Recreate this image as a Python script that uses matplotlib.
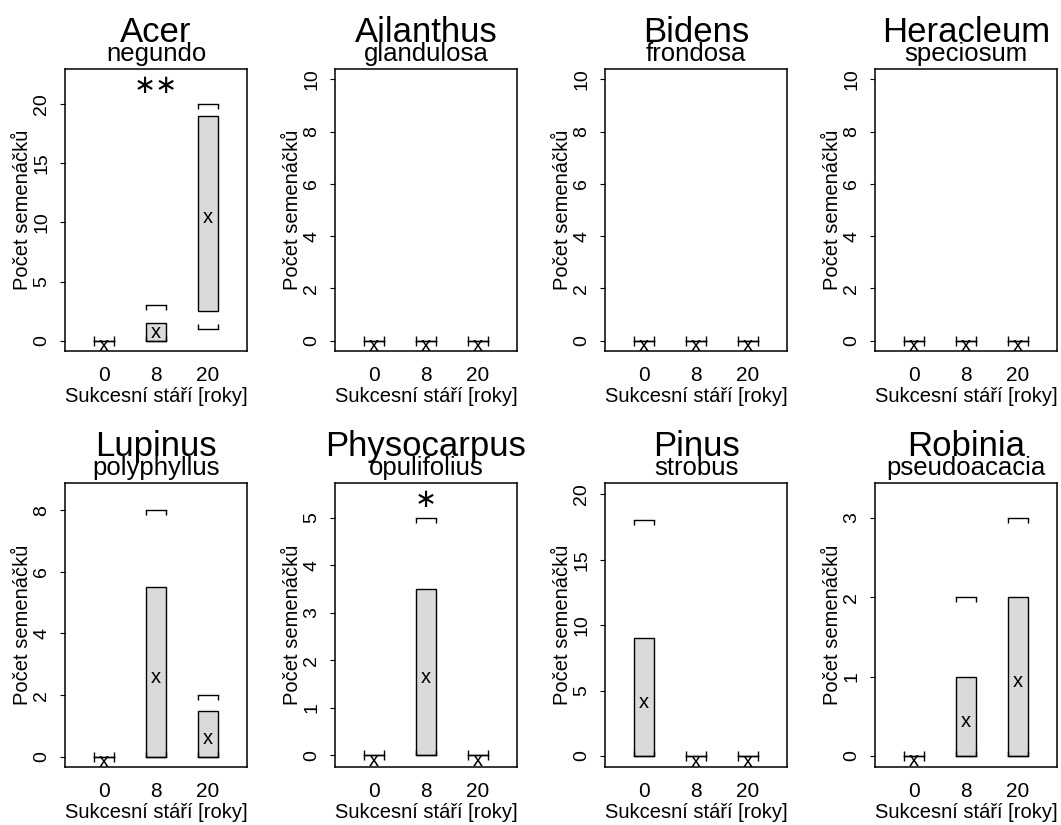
import matplotlib
matplotlib.use("Agg")
import matplotlib.pyplot as plt
from matplotlib.patches import Rectangle
from matplotlib.transforms import offset_copy

plt.rcParams['font.family'] = ['Liberation Sans', 'DejaVu Sans']

genus = ["Acer", "Ailanthus", "Bidens", "Heracleum",
         "Lupinus", "Physocarpus", "Pinus", "Robinia"]
species = ["negundo", "glandulosa", "frondosa", "speciosum",
           "polyphyllus", "opulifolius", "strobus", "pseudoacacia"]
ages = ["0", "8", "20"]

# one row per species, one value per age class (0, 8, 20 years)
q1 = [[0, 0, 2.5], [0, 0, 0], [0, 0, 0], [0, 0, 0],
      [0, 0, 0], [0, 0, 0], [0, 0, 0], [0, 0, 0]]
q3 = [[0, 1.5, 19], [0, 0, 0], [0, 0, 0], [0, 0, 0],
      [0, 5.5, 1.5], [0, 3.5, 0], [9, 0, 0], [0, 1, 2]]
vmin = [[0, 0, 1], [0, 0, 0], [0, 0, 0], [0, 0, 0],
        [0, 0, 0], [0, 0, 0], [0, 0, 0], [0, 0, 0]]
vmax = [[0, 3, 20], [0, 0, 0], [0, 0, 0], [0, 0, 0],
        [0, 8, 2], [0, 5, 0], [18, 0, 0], [0, 2, 3]]
means = [[0, 1.1, 10.8], [0, 0, 0], [0, 0, 0], [0, 0, 0],
         [0, 2.75, 0.76], [0, 1.75, 0], [4.5, 0, 0], [0, 0.5, 1.0]]
signif = ["**", "", "", "", "", "*", "", ""]

ylims = [(-0.85, 22.95), (-0.4, 10.4), (-0.4, 10.4), (-0.4, 10.4),
         (-0.33, 8.88), (-0.25, 5.73), (-0.84, 20.86), (-0.14, 3.44)]
ysteps = [5, 2, 2, 2, 2, 1, 5, 1]

W, H = 1061, 825
fig = plt.figure(figsize=(W / 100, H / 100), dpi=100)

box_w = 0.38
for i in range(8):
    row, col = divmod(i, 4)
    left = (65 + col * 270) / W
    if row == 0:
        ax = fig.add_axes([left, 1 - 351 / H, 182 / W, 282 / H])
    else:
        ax = fig.add_axes([left, 1 - 767 / H, 182 / W, 284 / H])

    mean_tr = offset_copy(ax.transData, fig, y=-5, units='dots')
    for j in range(3):
        x = j + 1
        if q3[i][j] > q1[i][j]:
            ax.add_patch(Rectangle((x - box_w / 2, q1[i][j]), box_w, q3[i][j] - q1[i][j],
                                   facecolor='#dadada', edgecolor='black', lw=1.0, zorder=2))
        xs = [x - box_w / 2, x + box_w / 2]
        ax.plot(xs, [vmax[i][j]] * 2, color='black', lw=1.0, zorder=3)
        ax.plot(xs, [vmax[i][j]] * 2, ls='none', marker=3, ms=3.5, mew=1.0, color='black', zorder=3)
        ax.plot(xs, [vmin[i][j]] * 2, color='black', lw=1.0, zorder=3)
        ax.plot(xs, [vmin[i][j]] * 2, ls='none', marker=2, ms=3.5, mew=1.0, color='black', zorder=3)
        ax.text(x, means[i][j], 'x', transform=mean_tr, ha='center', va='center',
                fontsize=14.5, zorder=4)

    if signif[i]:
        top = max(vmax[i])
        star_tr = offset_copy(ax.transData, fig, y=18, units='dots')
        ax.text(2, top, signif[i].replace('*', '\u2217'), transform=star_tr,
                ha='center', va='center', fontsize=19, family='DejaVu Sans')

    ax.set_xlim(0.24, 3.76)
    ax.set_ylim(*ylims[i])
    ax.set_xticks([1, 2, 3])
    ax.set_xticklabels(ages, fontsize=15)
    ax.tick_params(axis='x', length=0, pad=11)
    step = ysteps[i]
    ax.set_yticks([k * step for k in range(int(ylims[i][1] // step) + 1)])
    ax.tick_params(axis='y', length=3.5, width=0.8, pad=7, labelsize=14)
    for lab in ax.get_yticklabels():
        lab.set_rotation(90)
        lab.set_va('center')
    for s in ax.spines.values():
        s.set_linewidth(1.1)

    ax.set_xlabel("Sukcesní stáří [roky]", fontsize=14.5, labelpad=1)
    ax.set_ylabel("Počet semenáčků", fontsize=14.5, labelpad=1)

    gtr = offset_copy(ax.transAxes, fig, y=27, units='dots')
    str_ = offset_copy(ax.transAxes, fig, y=8, units='dots')
    ax.text(0.5, 1, genus[i], transform=gtr, ha='center', va='baseline', fontsize=25)
    ax.text(0.5, 1, species[i], transform=str_, ha='center', va='baseline', fontsize=18.5)

fig.savefig("out.png", dpi=100)
